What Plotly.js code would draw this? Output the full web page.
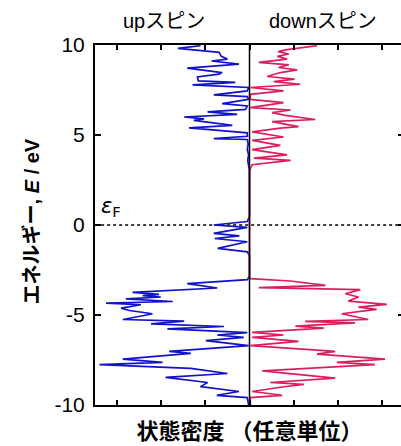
<!DOCTYPE html>
<html>
<head>
<meta charset="utf-8">
<script src="https://cdn.plot.ly/plotly-3.0.1.min.js"></script>
<style>
html, body { margin: 0; padding: 0; overflow: hidden; background: #fff; }
#chart { width: 410px; height: 446px; }
</style>
</head>
<body>
<div id="chart"></div>
<script>
// Energy (eV) and density of states (arbitrary units) for spin-up
const energyUp = [9.96, 9.81, 9.59, 9.37, 9.22, 9.11, 8.94, 8.72, 8.47, 8.38,
  8.23, 8.01, 7.92, 7.78, 7.64, 7.45, 7.23, 7.13, 6.98, 6.74,
  6.61, 6.42, 6.29, 6.15, 6.00, 5.90, 5.81, 5.53, 5.40, 5.12,
  4.93, 4.80, 4.75, 4.50, 4.20, 3.90, 3.60, 3.30, 3.00, 0.50,
  0.19, 0.00, -0.13, -0.47, -0.60, -0.75, -0.93, -1.30, -1.49, -1.70,
  -2.85, -3.04, -3.26, -3.50, -3.74, -3.85, -3.92, -4.00, -4.10, -4.25,
  -4.34, -4.43, -4.62, -4.75, -4.93, -5.03, -5.25, -5.34, -5.49, -5.64,
  -5.77, -5.98, -6.11, -6.24, -6.42, -6.70, -7.02, -7.13, -7.45, -7.63,
  -7.76, -7.97, -8.25, -8.47, -8.57, -8.75, -8.98, -9.25, -9.46, -9.59, -10.0];
const dosUp = [1.11, 1.62, 0.69, 0.64, 0.50, 0.86, 0.24, 1.41, 0.62, 0.69,
  1.18, 1.16, 0.32, 1.29, 0.02, 0.05, 0.81, 0.05, 0.02, 0.62,
  0.05, 0.09, 0.95, 0.28, 1.48, 1.03, 1.26, 0.39, 1.37, 0.05,
  0.05, 0.81, 0.05, 0.03, 0.05, 0.02, 0.04, 0.02, 0, 0,
  0.05, 0.81, 0.05, 0.81, 0.23, 0.79, 0.05, 0.72, 0.05, 0,
  0, 0.05, 1.41, 0.73, 2.65, 2.05, 2.42, 2.01, 2.80, 1.74,
  3.25, 2.46, 2.91, 2.72, 2.20, 2.39, 2.87, 1.48, 2.23, 0.58,
  1.86, 0.05, 0.73, 0.13, 0.99, 0.02, 1.82, 1.33, 2.87, 1.97,
  3.40, 1.33, 0.50, 1.90, 1.60, 0.95, 1.11, 0.24, 0.74, 0.05, 0.02];

// Spin-down
const energyDown = [9.96, 9.74, 9.63, 9.50, 9.37, 9.22, 9.03, 8.90, 8.75, 8.62,
  8.47, 8.25, 8.10, 7.97, 7.82, 7.64, 7.45, 7.26, 6.98, 6.80,
  6.52, 6.39, 6.24, 6.09, 5.86, 5.74, 5.47, 5.38, 5.17, 4.89,
  4.70, 4.42, 4.19, 3.90, 3.72, 3.59, 3.35, 3.17, 3.00, -2.85,
  -2.98, -3.11, -3.35, -3.48, -3.59, -3.82, -4.00, -4.23, -4.41, -4.56,
  -4.69, -4.93, -5.25, -5.35, -5.44, -5.62, -5.73, -5.96, -6.11, -6.24,
  -6.46, -6.70, -7.02, -7.17, -7.45, -7.63, -7.76, -8.10, -8.51, -8.75,
  -8.85, -9.00, -9.25, -9.46, -9.59, -10.0];
const dosDown = [1.53, 0.85, 0.65, 0.89, 0.63, 0.85, 0.21, 0.89, 0.66, 1.08,
  0.70, 0.40, 1.02, 0.55, 1.15, 0.02, 0.77, 0.02, 0.02, 0.77,
  0.02, 0.93, 0.51, 0.81, 1.49, 0.51, 1.11, 0.70, 0.06, 0.77,
  0.06, 0.70, 0.06, 0.85, 0.10, 0.93, 0.06, 0.02, 0, 0,
  0.02, 0.93, 1.72, 0.21, 2.51, 2.17, 2.47, 2.24, 3.11, 2.47,
  2.88, 2.09, 2.69, 1.26, 2.39, 1.04, 1.68, 0.06, 0.77, 0.06,
  1.11, 0.02, 1.94, 1.53, 3.07, 1.98, 2.84, 0.29, 1.94, 0.47,
  1.23, 0.74, 0.06, 0.74, 0.02, 0.02];

const yTickVals = [-10, -5, 0, 5, 10];
const yTickText = ['-10', '-5', '0', '5', '10'];
const xTickVals = [-3, -2, -1, 0, 1, 2, 3];

const seriesLabels = ['upスピン', 'downスピン'];
const xTitle = '状態密度 （任意単位）';
const yTitle = 'エネルギー, <i>E</i> / eV';
const fermiLabel = '<i>ε</i><sub>F</sub>';

const latin = 'Liberation Sans, Arial, Noto Sans CJK JP, sans-serif';

const traces = [
  {
    x: dosUp.map(v => -v), y: energyUp, type: 'scatter', mode: 'lines',
    line: { color: '#1212C8', width: 1.7 }, name: seriesLabels[0], showlegend: false
  },
  {
    x: dosDown, y: energyDown, type: 'scatter', mode: 'lines',
    line: { color: '#DC1E5A', width: 1.7 }, name: seriesLabels[1], showlegend: false
  }
];

const layout = {
  width: 410, height: 446,
  margin: { l: 95, r: 6, t: 45, b: 41 },
  paper_bgcolor: '#fff', plot_bgcolor: '#fff',
  font: { family: latin, color: '#000', size: 20 },
  xaxis: {
    range: [-3.5, 3.5], tickvals: xTickVals, showticklabels: false,
    ticks: 'inside', ticklen: 5, tickwidth: 2, tickcolor: '#000',
    showline: true, linecolor: '#000', linewidth: 2, mirror: 'allticks',
    showgrid: false, zeroline: false,
    title: { text: '<b>' + xTitle + '</b>', font: { size: 22, family: latin }, standoff: 18 }
  },
  yaxis: {
    range: [-10, 10], tickvals: yTickVals, ticktext: yTickText,
    ticks: 'inside', ticklen: 6, tickwidth: 2, tickcolor: '#000',
    showline: true, linecolor: '#000', linewidth: 2, mirror: 'allticks',
    showgrid: false, zeroline: false,
    tickfont: { size: 21, family: latin }, ticklabelstandoff: 4
  },
  shapes: [
    { type: 'line', xref: 'paper', yref: 'y', x0: 0.02, x1: 1, y0: 0, y1: 0,
      line: { color: '#000', width: 1.5, dash: 'dot' }, layer: 'below' },
    { type: 'line', xref: 'x', yref: 'paper', x0: 0, x1: 0, y0: 0, y1: 1,
      line: { color: '#000', width: 1.5 }, layer: 'above' }
  ],
  annotations: [
    { text: seriesLabels[0], xref: 'x', yref: 'paper', x: -1.94, y: 1, yanchor: 'middle', yshift: 24,
      showarrow: false, font: { size: 20, family: latin } },
    { text: seriesLabels[1], xref: 'x', yref: 'paper', x: 1.67, y: 1, yanchor: 'middle', yshift: 24,
      showarrow: false, font: { size: 20, family: latin } },
    { text: '<b>' + yTitle + '</b>', xref: 'paper', yref: 'y', x: 0, xshift: -76, y: 0.2,
      textangle: -90, showarrow: false, font: { size: 20, family: latin } },
    { text: fermiLabel, xref: 'x', yref: 'y', x: -3.4, y: 0.15, xanchor: 'left', yanchor: 'bottom',
      showarrow: false, font: { size: 21, family: 'DejaVu Sans, sans-serif' } }
  ]
};

Plotly.newPlot('chart', traces, layout, { staticPlot: true, displayModeBar: false });
</script>
</body>
</html>
